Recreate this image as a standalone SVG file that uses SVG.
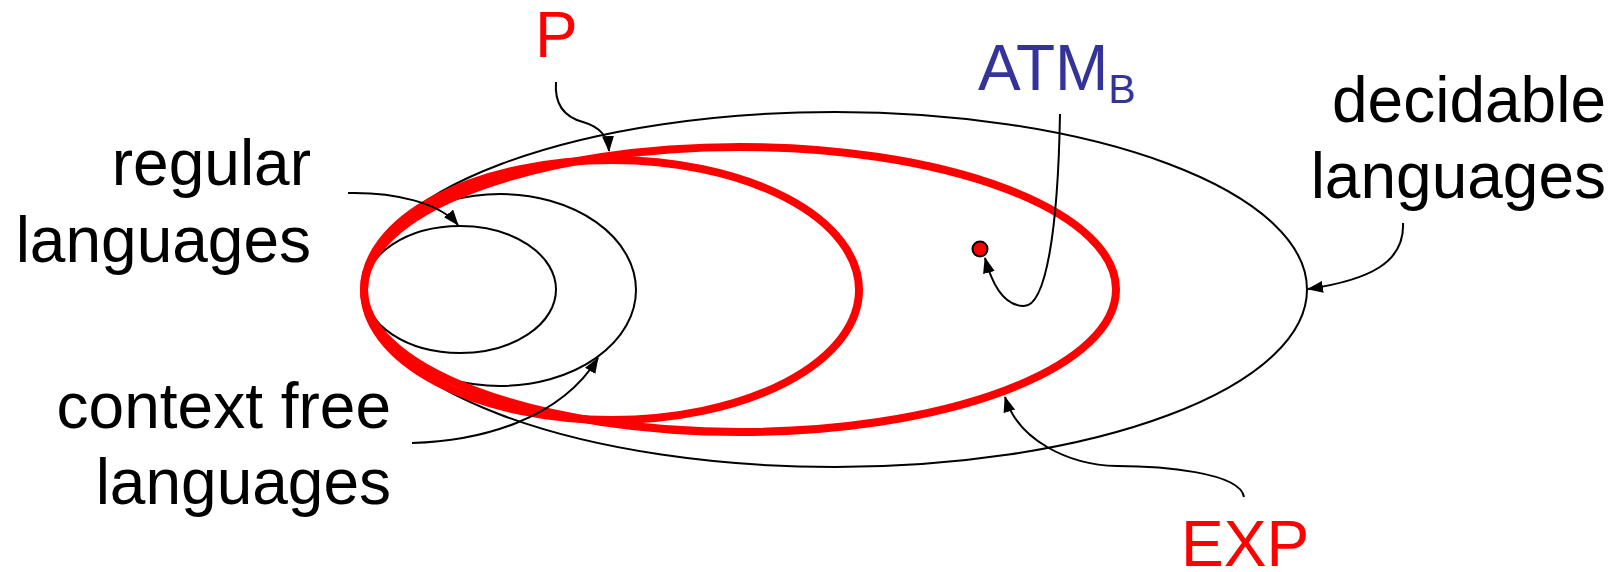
<svg xmlns="http://www.w3.org/2000/svg" width="1621" height="572" viewBox="0 0 1621 572">
<style>
.thin{fill:none;stroke:#000;stroke-width:2}
.red{fill:none;stroke:#FF0000;stroke-width:8}
.conn{fill:none;stroke:#000;stroke-width:2}
.lbl{font-family:"Liberation Sans",Arial,sans-serif;font-size:64px;fill:#000}
</style>
<defs>
<marker id="ah" markerWidth="16" markerHeight="12" refX="15" refY="6" orient="auto" markerUnits="userSpaceOnUse">
<path d="M0,0 L16,6 L0,12 z" fill="#000"/>
</marker>
</defs>
<g id="decidable"><ellipse class="thin" cx="835" cy="289.5" rx="472" ry="177.5"/></g>
<g id="contextfree"><ellipse class="thin" cx="500" cy="290" rx="136" ry="96"/></g>
<g id="regular"><ellipse class="thin" cx="460" cy="289.5" rx="96" ry="63.5"/></g>
<g id="exp"><ellipse class="red" cx="740" cy="289.5" rx="376" ry="142.5"/></g>
<g id="p"><ellipse class="red" cx="611.5" cy="290" rx="247.5" ry="130"/></g>
<g id="atmb"><circle cx="980" cy="249" r="7.5" fill="#FF0000" stroke="#000" stroke-width="2"/></g>
<g id="connectors">
<path class="conn" marker-end="url(#ah)" d="M348,193 C395,192 440,203 458,225"/>
<path class="conn" marker-end="url(#ah)" d="M556,82 C554,108 568,118 583,122 C600,127 608,136 609,151"/>
<path class="conn" marker-end="url(#ah)" d="M1060,114 C1058,230 1046,306 1024,306 C1004,306 992,284 985,258"/>
<path class="conn" marker-end="url(#ah)" d="M412,443 C480,441 560,420 598,358"/>
<path class="conn" marker-end="url(#ah)" d="M1244,497 C1240,472 1160,466 1117,466 C1068,465 1018,440 1005,397"/>
<path class="conn" marker-end="url(#ah)" d="M1403,223 C1405,262 1370,280 1308,289"/>
</g>
<g id="labels">
<text class="lbl" x="311" y="185" text-anchor="end">regular</text>
<text class="lbl" x="311" y="262" text-anchor="end">languages</text>
<text class="lbl" x="391" y="428" text-anchor="end">context free</text>
<text class="lbl" x="391" y="504" text-anchor="end">languages</text>
<text class="lbl" x="1606" y="122" text-anchor="end">decidable</text>
<text class="lbl" x="1606" y="198" text-anchor="end">languages</text>
<text class="lbl" x="535" y="57" style="fill:#FF0000">P</text>
<text class="lbl" x="978" y="90" style="fill:#333399">ATM<tspan font-size="41" dy="13">B</tspan></text>
<text class="lbl" x="1181" y="566" style="fill:#FF0000">EXP</text>
</g>
</svg>
